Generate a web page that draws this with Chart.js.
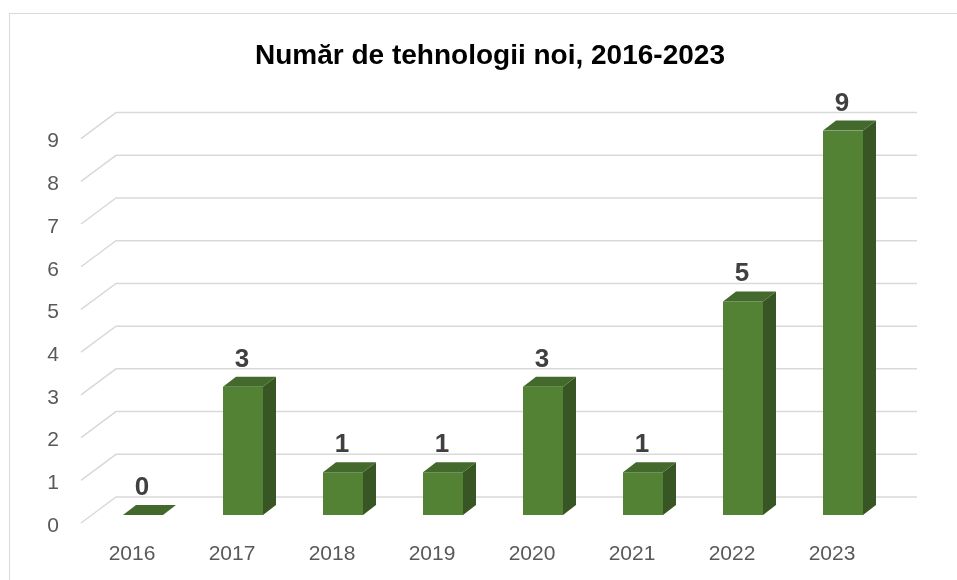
<!DOCTYPE html>
<html>
<head>
<meta charset="utf-8">
<script src="https://cdn.jsdelivr.net/npm/chart.js@4/dist/chart.umd.min.js"></script>
<style>
  html, body { margin: 0; padding: 0; background: #ffffff; }
  #wrap { position: relative; width: 957px; height: 580px; overflow: hidden; }
  #frame { position: absolute; left: 9px; top: 13px; width: 960px; height: 600px;
           border-top: 1.5px solid #d9d9d9; border-left: 1.5px solid #d9d9d9; }
  canvas { position: absolute; left: 0; top: 0; }
</style>
</head>
<body>
<div id="wrap">
  <div id="frame"></div>
  <canvas id="c" width="957" height="580"></canvas>
</div>
<script>
const titleText = 'Număr de tehnologii noi, 2016-2023';
const categories = ['2016', '2017', '2018', '2019', '2020', '2021', '2022', '2023'];
const values = [0, 3, 1, 1, 3, 1, 5, 9];
const yTicks = [0, 1, 2, 3, 4, 5, 6, 7, 8, 9];

const FRONT = '#548235';
const SIDE = '#375623';
const TOP = '#436a2c';
const GRID = '#d9d9d9';
const DEPTH_X = 13, DEPTH_Y = 10;     // bar depth
const BACK_DY = 18;                   // back wall offset from bar front plane
const FRONT_DY = 8;                   // floor front edge offset
const WALL_DX = 35;                   // floor diagonal width

const gridPlugin = {
  id: 'grid3d',
  beforeDatasetsDraw(chart) {
    const ctx = chart.ctx;
    const y = chart.scales.y;
    const area = chart.chartArea;
    ctx.save();
    ctx.strokeStyle = GRID;
    ctx.lineWidth = 1.5;
    yTicks.forEach(v => {
      const p = y.getPixelForValue(v);
      const xf = area.left - 12;
      ctx.beginPath();
      ctx.moveTo(xf, p + FRONT_DY);
      ctx.lineTo(xf + WALL_DX, p - BACK_DY);
      ctx.lineTo(area.right + 24, p - BACK_DY);
      ctx.stroke();
    });
    ctx.restore();
  }
};

const barPlugin = {
  id: 'bar3d',
  afterDatasetsDraw(chart) {
    const ctx = chart.ctx;
    const meta = chart.getDatasetMeta(0);
    ctx.save();
    meta.data.forEach((bar, i) => {
      const p = bar.getProps(['x', 'y', 'base', 'width'], true);
      const l = p.x - p.width / 2, r = p.x + p.width / 2;
      const top = p.y, base = p.base;
      if (base - top > 0.5) {
        ctx.fillStyle = SIDE;
        ctx.beginPath();
        ctx.moveTo(r, top);
        ctx.lineTo(r + DEPTH_X, top - DEPTH_Y);
        ctx.lineTo(r + DEPTH_X, base - DEPTH_Y);
        ctx.lineTo(r, base);
        ctx.closePath();
        ctx.fill();
      }
      ctx.fillStyle = TOP;
      ctx.beginPath();
      ctx.moveTo(l, top);
      ctx.lineTo(l + DEPTH_X, top - DEPTH_Y);
      ctx.lineTo(r + DEPTH_X, top - DEPTH_Y);
      ctx.lineTo(r, top);
      ctx.closePath();
      ctx.fill();
      ctx.fillStyle = '#404040';
      ctx.font = 'bold 26px "Liberation Sans", Arial, sans-serif';
      ctx.textAlign = 'center';
      ctx.textBaseline = 'alphabetic';
      ctx.fillText(String(values[i]), p.x - 1, top - 20);
    });
    ctx.restore();
  }
};

new Chart(document.getElementById('c'), {
  type: 'bar',
  data: {
    labels: categories,
    datasets: [{
      data: values,
      backgroundColor: FRONT,
      borderWidth: 0,
      barPercentage: 0.4,
      categoryPercentage: 1.0
    }]
  },
  options: {
    responsive: false,
    animation: false,
    devicePixelRatio: 1,
    layout: { padding: { left: 40, right: 17, top: 0, bottom: 0 } },
    plugins: {
      legend: { display: false },
      tooltip: { enabled: false },
      title: {
        display: true,
        text: titleText,
        color: '#000000',
        font: { family: '"Liberation Sans", Arial, sans-serif', size: 28, weight: 'bold' },
        padding: { top: 39, bottom: 58 }
      }
    },
    scales: {
      x: {
        grid: { display: false },
        border: { display: false },
        ticks: {
          color: '#595959',
          font: { family: '"Liberation Sans", Arial, sans-serif', size: 21 },
          padding: 19,
          labelOffset: -11,
          maxRotation: 0
        },
        afterFit(scale) { scale.height = 65; }
      },
      y: {
        min: 0,
        max: 9,
        grid: { display: false },
        border: { display: false },
        afterBuildTicks(scale) { scale.ticks = yTicks.map(v => ({ value: v })); },
        ticks: {
          color: '#595959',
          font: { family: '"Liberation Sans", Arial, sans-serif', size: 21 },
          padding: 26,
          labelOffset: 11
        },
        afterFit(scale) { scale.width = 53; }
      },
      yRightSpace: {
        position: 'right',
        min: 0,
        max: 9,
        grid: { display: false },
        border: { display: false },
        ticks: { display: false },
        afterFit(scale) { scale.width = 47; }
      }
    }
  },
  plugins: [gridPlugin, barPlugin]
});
</script>
</body>
</html>
